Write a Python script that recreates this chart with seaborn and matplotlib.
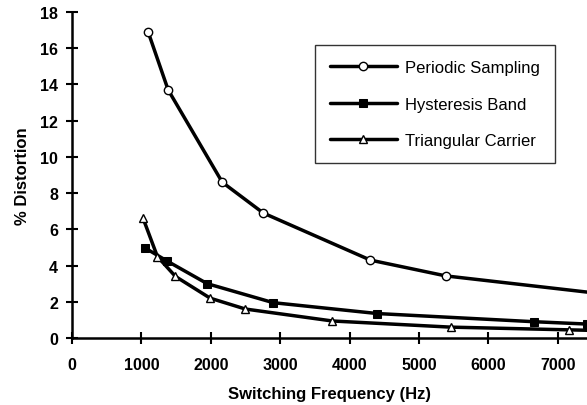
import matplotlib
matplotlib.use("Agg")
import matplotlib.pyplot as plt
import seaborn as sns
import pandas as pd

ps_x = [1097, 1385, 2165, 2756, 4300, 5383, 7500]
ps_y = [16.9, 13.7, 8.6, 6.9, 4.3, 3.43, 2.5]
hb_x = [1053, 1370, 1948, 2900, 4400, 6652, 7420]
hb_y = [4.97, 4.25, 3.0, 1.95, 1.35, 0.9, 0.77]
tc_x = [1025, 1230, 1490, 1990, 2497, 3750, 5456, 7160, 7500]
tc_y = [6.6, 4.5, 3.4, 2.2, 1.6, 0.94, 0.6, 0.45, 0.42]
names = ["Periodic Sampling", "Hysteresis Band", "Triangular Carrier"]
x_ticks = [0, 1000, 2000, 3000, 4000, 5000, 6000, 7000]
y_ticks = [0, 2, 4, 6, 8, 10, 12, 14, 16, 18]

sns.set_style("ticks")
plt.rcParams['font.family'] = ['Liberation Sans', 'DejaVu Sans']
plt.rcParams['text.color'] = 'black'
plt.rcParams['axes.labelcolor'] = 'black'
plt.rcParams['xtick.color'] = 'black'
plt.rcParams['ytick.color'] = 'black'

fig = plt.figure(figsize=(5.87, 4.06), dpi=100)
ax = fig.add_axes([72/587, 1-339/406, 1-72/587, 326/406])

styles = [
    dict(marker='o', markerfacecolor='white', markeredgecolor='black', markersize=6, markeredgewidth=1),
    dict(marker='s', markerfacecolor='black', markeredgecolor='black', markersize=6),
    dict(marker='^', markerfacecolor='white', markeredgecolor='black', markersize=6, markeredgewidth=1),
]
for xs, ys, name, st in zip([ps_x, hb_x, tc_x], [ps_y, hb_y, tc_y], names, styles):
    df = pd.DataFrame({"x": xs, "y": ys})
    sns.lineplot(data=df, x="x", y="y", ax=ax, color='black', linewidth=2.5,
                 label=name, clip_on=True, **st)

ax.set_xlim(0, 7420)
ax.set_ylim(0, 18)
ax.set_xticks(x_ticks)
ax.set_yticks(y_ticks)
ax.set_xticklabels([str(v) for v in x_ticks], fontweight='bold', fontsize=11.5)
ax.set_yticklabels([str(v) for v in y_ticks], fontweight='bold', fontsize=11.5)
ax.tick_params(direction='inout', length=8, width=1.5, colors='black', pad=6)
ax.tick_params(axis='x', pad=10)
for s in ['top', 'right']:
    ax.spines[s].set_visible(False)
for s in ['left', 'bottom']:
    ax.spines[s].set_linewidth(1.8)
    ax.spines[s].set_color('black')
ax.set_xlabel("Switching Frequency (Hz)", fontweight='bold', fontsize=12, labelpad=10)
ax.set_ylabel("% Distortion", fontweight='bold', fontsize=12, labelpad=7)

leg = ax.legend(loc='upper left', bbox_to_anchor=(0.472, 0.899), frameon=True,
                fancybox=False, edgecolor='black', fontsize=12, handlelength=4.0,
                handletextpad=0.5, labelspacing=1.3, borderpad=0.9, borderaxespad=0)
leg.get_frame().set_linewidth(1.0)

fig.savefig("out.png", dpi=100)
